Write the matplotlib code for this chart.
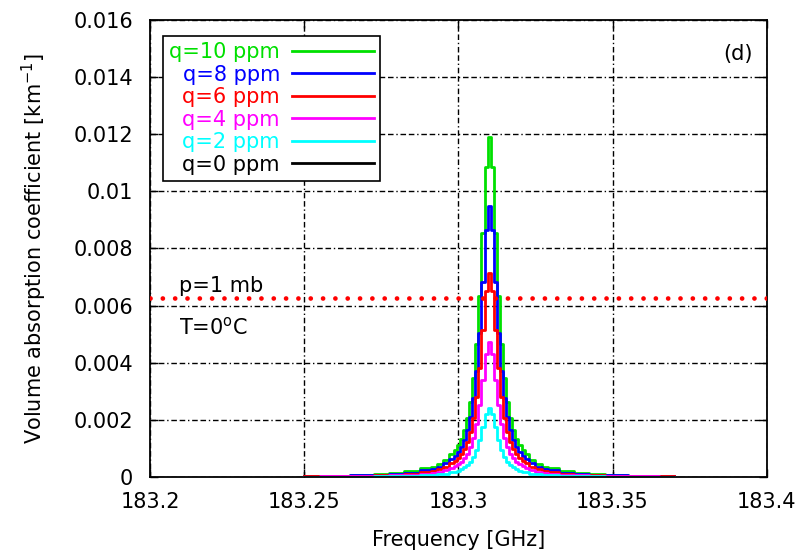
import matplotlib.pyplot as plt
import matplotlib.ticker as mticker

plt.rc("font", family="DejaVu Sans", size=15)
plt.rc("mathtext", default="regular")

# frequency grid [GHz]
freq = [183.250, 183.260, 183.270, 183.275, 183.280, 183.285, 183.290, 183.292,
        183.294, 183.296, 183.298, 183.299, 183.300, 183.301, 183.302, 183.303,
        183.304, 183.305, 183.306, 183.307, 183.308, 183.309, 183.310, 183.311,
        183.312, 183.313, 183.314, 183.315, 183.316, 183.317, 183.318, 183.319,
        183.320, 183.321, 183.322, 183.324, 183.326, 183.328, 183.330, 183.335,
        183.340, 183.345, 183.350, 183.360, 183.370]

# volume absorption coefficient, in units of 1e-4 km^-1
alpha_q10 = [0.33, 0.49, 0.76, 0.99, 1.33, 1.92, 2.98, 3.64, 4.58, 5.91, 7.90, 9.28,
             11.06, 13.33, 16.42, 20.59, 26.30, 34.63, 46.41, 63.31, 85.56, 108.4,
             119.0,
             108.4, 85.56, 63.31, 46.41, 34.63, 26.30, 20.59, 16.42, 13.33, 11.06,
             9.28, 7.90, 5.91, 4.58, 3.64, 2.98, 1.92, 1.33, 0.99, 0.76, 0.49, 0.33]
alpha_q8 = [0.27, 0.39, 0.61, 0.79, 1.06, 1.53, 2.38, 2.91, 3.66, 4.72, 6.31, 7.41,
            8.83, 10.64, 13.11, 16.44, 21.00, 27.65, 37.05, 50.54, 68.31, 86.55,
            95.0,
            86.55, 68.31, 50.54, 37.05, 27.65, 21.00, 16.44, 13.11, 10.64, 8.83,
            7.41, 6.31, 4.72, 3.66, 2.91, 2.38, 1.53, 1.06, 0.79, 0.61, 0.39, 0.27]
alpha_q6 = [0.20, 0.29, 0.46, 0.59, 0.80, 1.15, 1.79, 2.18, 2.75, 3.55, 4.74, 5.57,
            6.63, 8.00, 9.85, 12.35, 15.78, 20.78, 27.85, 37.98, 51.34, 65.05,
            71.4,
            65.05, 51.34, 37.98, 27.85, 20.78, 15.78, 12.35, 9.85, 8.00, 6.63,
            5.57, 4.74, 3.55, 2.75, 2.18, 1.79, 1.15, 0.80, 0.59, 0.46, 0.29, 0.20]
alpha_q4 = [0.13, 0.19, 0.30, 0.39, 0.53, 0.76, 1.18, 1.45, 1.82, 2.35, 3.14, 3.69,
            4.39, 5.30, 6.53, 8.18, 10.45, 13.76, 18.45, 25.16, 34.01, 43.09,
            47.3,
            43.09, 34.01, 25.16, 18.45, 13.76, 10.45, 8.18, 6.53, 5.30, 4.39,
            3.69, 3.14, 2.35, 1.82, 1.45, 1.18, 0.76, 0.53, 0.39, 0.30, 0.19, 0.13]
alpha_q2 = [0.07, 0.10, 0.15, 0.20, 0.27, 0.39, 0.61, 0.74, 0.93, 1.20, 1.61, 1.89,
            2.25, 2.71, 3.34, 4.19, 5.35, 7.04, 9.44, 12.87, 17.40, 22.05,
            24.2,
            22.05, 17.40, 12.87, 9.44, 7.04, 5.35, 4.19, 3.34, 2.71, 2.25,
            1.89, 1.61, 1.20, 0.93, 0.74, 0.61, 0.39, 0.27, 0.20, 0.15, 0.10, 0.07]
alpha_q0 = [0.0, 0.0, 0.0, 0.0, 0.0, 0.0, 0.0, 0.0, 0.0, 0.0, 0.0, 0.0,
            0.0, 0.0, 0.0, 0.0, 0.0, 0.0, 0.0, 0.0, 0.0, 0.0,
            0.0,
            0.0, 0.0, 0.0, 0.0, 0.0, 0.0, 0.0, 0.0, 0.0, 0.0,
            0.0, 0.0, 0.0, 0.0, 0.0, 0.0, 0.0, 0.0, 0.0, 0.0, 0.0, 0.0]
scale = 1e-4

labels = ["q=10 ppm", "q=8 ppm", "q=6 ppm", "q=4 ppm", "q=2 ppm", "q=0 ppm"]
series = [alpha_q10, alpha_q8, alpha_q6, alpha_q4, alpha_q2, alpha_q0]
colors = ["#00e000", "#0000ff", "#ff0000", "#ff00ff", "#00ffff", "#000000"]

threshold = 0.00627  # red dotted level

xticks = [183.2, 183.25, 183.3, 183.35, 183.4]
yticks = [0, 0.002, 0.004, 0.006, 0.008, 0.01, 0.012, 0.014, 0.016]

fig = plt.figure(figsize=(8.02, 5.58), dpi=100)
ax = fig.add_axes([0.187, 0.1452, 0.769, 0.819])

for vals, lab, col in zip(series, labels, colors):
    ax.plot(freq, [v * scale for v in vals], drawstyle="steps-mid",
            color=col, lw=2.0, label=lab, zorder=3)

ax.axhline(threshold, color="#ff0000", lw=3.4, linestyle=(0, (0.01, 2.6)),
           dash_capstyle="round", zorder=4)

ax.set_xlim(183.2, 183.4)
ax.set_ylim(0, 0.016)
ax.set_xticks(xticks)
ax.set_yticks(yticks)
fmt = mticker.FuncFormatter(lambda v, pos: "%g" % v)
ax.xaxis.set_major_formatter(fmt)
ax.yaxis.set_major_formatter(fmt)
ax.tick_params(direction="in", length=6, width=1, top=True, right=True)
ax.tick_params(axis="y", pad=12)
ax.tick_params(axis="x", pad=11)
ax.grid(True, color="black", lw=1.0, linestyle=(0, (4, 2, 4, 2, 1, 2)))
for sp in ax.spines.values():
    sp.set_linewidth(1.3)

ax.set_xlabel("Frequency [GHz]", labelpad=13)
ax.set_ylabel("Volume absorption coefficient [km$^{-1}$]", labelpad=18)

ax.text(0.047, 0.418, "p=1 mb", transform=ax.transAxes, va="center", ha="left")
ax.text(0.047, 0.328, "T=0$^o$C", transform=ax.transAxes, va="center", ha="left")
ax.text(0.978, 0.925, "(d)", transform=ax.transAxes, va="center", ha="right")

leg = ax.legend(loc="upper left", bbox_to_anchor=(0.021, 0.965), borderaxespad=0,
                markerfirst=False, labelcolor="linecolor", handlelength=3.9,
                handletextpad=0.6, labelspacing=0.12, borderpad=0.3,
                fancybox=False, framealpha=1, edgecolor="black")
leg.get_frame().set_linewidth(1.2)
leg.set_zorder(5)

fig.savefig("out.png", dpi=100)
